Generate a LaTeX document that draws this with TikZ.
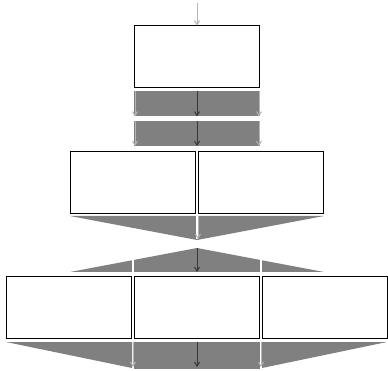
\documentclass[tikz,border=0pt]{standalone}
\usetikzlibrary{arrows.meta}
\definecolor{bandgray}{RGB}{128,128,128}
\definecolor{darkarr}{RGB}{55,55,55}
\definecolor{lightarr}{RGB}{180,180,180}
\tikzset{
  blk/.style={draw=black, line width=0.9pt, fill=white, minimum width=125pt, minimum height=62pt, inner sep=0pt, outer sep=0pt},
  band/.style={fill=bandgray, draw=none, minimum width=126pt, minimum height=25pt, inner sep=0pt, outer sep=0pt},
  darr/.style={draw=darkarr, line width=1pt, -{Straight Barb[length=4pt,width=5pt]}},
  larr/.style={draw=lightarr, line width=1pt, -{Straight Barb[length=4pt,width=5pt]}},
  gap/.style={draw=white, line width=1.6pt},
  fan/.style={fill=bandgray, draw=none}
}
\begin{document}
\begin{tikzpicture}[x=1pt,y=-1pt]
\useasboundingbox (0,0) rectangle (388,371);
% top box
\coordinate (in) at (197,3);
\node[blk] (b1) at (197,56.5) {};
\draw[larr] (in) -- (b1.north);
% bands
\node[band] (band1) at (197,104) {};
\node[band] (band2) at (197,133.5) {};
\foreach \n in {band1,band2}{
  \draw[larr] ([xshift=1pt]\n.north west) -- ([xshift=1pt]\n.south west);
  \draw[darr] (\n.north) -- (\n.south);
  \draw[larr] ([xshift=-1pt]\n.north east) -- ([xshift=-1pt]\n.south east);
}
% row 2
\node[blk] (r2a) at (133,182) {};
\node[blk] (r2b) at (261,182) {};
% funnel
\coordinate (f1) at (70,216);
\coordinate (f2) at (324,216);
\coordinate (ftip) at (197,240);
\coordinate (ftop) at (197,216);
\fill[fan] (f1) -- (f2) -- (ftip) -- cycle;
\draw[gap] (ftop) -- (197,239);
\draw[larr] (198,216) -- (198,239);
% fan out
\coordinate (g0) at (197,248);
\coordinate (g1) at (70,272);
\coordinate (g2) at (324,272);
\coordinate (gb) at (197,272);
\fill[fan] (g0) -- (g2) -- (g1) -- cycle;
\draw[gap] (133,255) -- (133,273);
\draw[gap] (261,255) -- (261,273);
\draw[darr] (g0) -- (gb);
% row 3
\node[blk] (r3a) at (69,307) {};
\node[blk] (r3b) at (197,307) {};
\node[blk] (r3c) at (324.5,307) {};
% bottom
\fill[fan] (6,342) -- (132,342) -- (132,368) -- cycle;
\node[band, minimum height=27pt, anchor=north] (band3) at (197,342) {};
\fill[fan] (262,342) -- (387,342) -- (262,368) -- cycle;
\draw[larr] (133,342) -- (133,367);
\draw[darr] (band3.north) -- (197,367);
\draw[larr] (261,342) -- (261,367);
\end{tikzpicture}
\end{document}
